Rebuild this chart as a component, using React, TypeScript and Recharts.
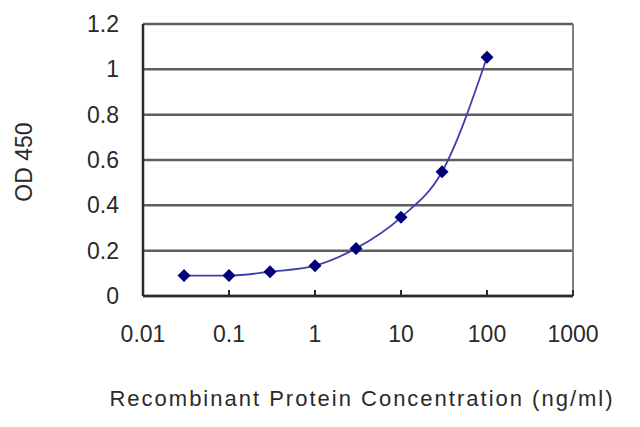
import { LineChart, Line, XAxis, YAxis, CartesianGrid, ReferenceLine } from 'recharts';

// concentration (ng/ml) and measured OD450
const concentrations = [0.03, 0.1, 0.3, 1, 3, 10, 30, 100];
const odValues = [0.09, 0.09, 0.107, 0.134, 0.21, 0.347, 0.548, 1.053];

const xTicks = [0.01, 0.1, 1, 10, 100, 1000];
const yTicks = [0, 0.2, 0.4, 0.6, 0.8, 1, 1.2];

const data = concentrations.map((c, i) => ({ conc: c, od: odValues[i] }));

const FONT = '"Liberation Sans", Arial, sans-serif';

const Diamond = (props: any) => {
  const { cx, cy } = props;
  if (cx == null || cy == null) return null;
  const r = 6.5;
  return (
    <path
      d={`M${cx},${cy - r} L${cx + r},${cy} L${cx},${cy + r} L${cx - r},${cy} Z`}
      fill="#00007a"
      stroke="none"
    />
  );
};

export default function App() {
  return (
    <div style={{ position: 'absolute', left: 0, top: 0, width: 640, height: 427, background: '#fff' }}>
      <LineChart
        width={640}
        height={427}
        data={data}
        margin={{ top: 24, right: 67, bottom: 0, left: 0 }}
      >
        <CartesianGrid horizontal vertical={false} stroke="#5e5e5e" strokeWidth={2.5} />
        <ReferenceLine x={1000} stroke="#808080" strokeWidth={2} />
        <XAxis
          dataKey="conc"
          type="number"
          scale="log"
          domain={[0.01, 1000]}
          ticks={xTicks}
          allowDataOverflow
          height={131}
          axisLine={{ stroke: '#2a2a2a', strokeWidth: 2.5 }}
          tickLine={{ stroke: '#2a2a2a', strokeWidth: 2 }}
          tickSize={-6}
          tickMargin={36}
          tick={{ fill: '#2a2a2a', fontSize: 23, fontFamily: FONT }}
          interval={0}
          label={{
            content: () => (
              <text
                x={362}
                y={398}
                textAnchor="middle"
                dominantBaseline="central"
                fill="#2a2a2a"
                fontSize={22}
                letterSpacing={2}
                fontFamily={FONT}
              >
                Recombinant Protein Concentration (ng/ml)
              </text>
            ),
          }}
        />
        <YAxis
          type="number"
          domain={[0, 1.2]}
          ticks={yTicks}
          width={143}
          axisLine={{ stroke: '#2a2a2a', strokeWidth: 2.5 }}
          tickLine={false}
          tickMargin={18}
          tick={{ fill: '#2a2a2a', fontSize: 23, fontFamily: FONT }}
          interval={0}
          label={{
            content: () => (
              <text
                x={24}
                y={162}
                transform="rotate(-90 24 162)"
                textAnchor="middle"
                dominantBaseline="central"
                fill="#2a2a2a"
                fontSize={23}
                fontFamily={FONT}
              >
                OD 450
              </text>
            ),
          }}
        />
        <Line
          type="monotone"
          dataKey="od"
          stroke="#4040aa"
          strokeWidth={1.8}
          dot={<Diamond />}
          activeDot={false}
          isAnimationActive={false}
        />
      </LineChart>
    </div>
  );
}
